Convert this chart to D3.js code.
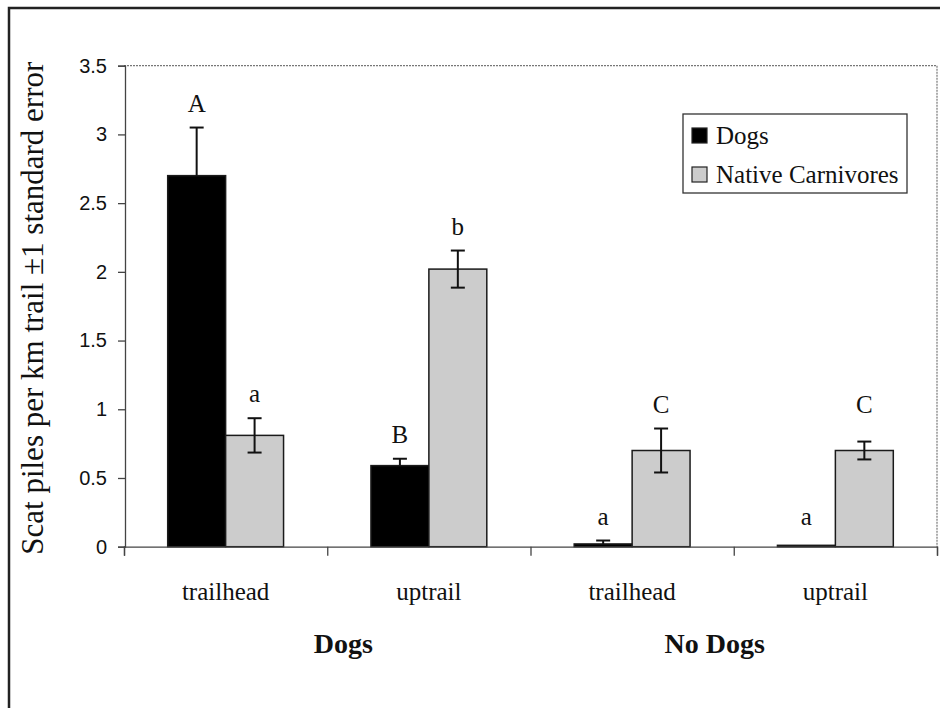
<!DOCTYPE html>
<html>
<head>
<meta charset="utf-8">
<script src="https://cdn.jsdelivr.net/npm/d3@7"></script>
<style>
  html, body { margin: 0; padding: 0; background: #fff; }
  svg { display: block; }
  .serif { font-family: "Liberation Serif", "Times New Roman", Times, serif; }
  .sans { font-family: "Liberation Sans", Arial, sans-serif; }
</style>
</head>
<body>
<svg id="chart" width="940" height="708"></svg>
<script>
// Scat piles per km of trail, by site and treatment
const treatments = ["Dogs", "No Dogs"];
const sites = ["trailhead", "uptrail", "trailhead", "uptrail"];
const siteTreatment = ["Dogs", "Dogs", "No Dogs", "No Dogs"];
const seriesNames = ["Dogs", "Native Carnivores"];
const dogMeans = [2.70, 0.59, 0.02, 0.01];
const dogSE = [0.35, 0.05, 0.025, 0.0];
const nativeMeans = [0.81, 2.02, 0.70, 0.70];
const nativeSE = [0.125, 0.135, 0.16, 0.065];
const dogLetters = ["A", "B", "a", "a"];
const nativeLetters = ["a", "b", "C", "C"];
const yTicks = [0, 0.5, 1, 1.5, 2, 2.5, 3, 3.5];
const yTitle = "Scat piles per km trail \u00b11 standard error";

const svg = d3.select("#chart");
const W = 940, H = 708;
const plot = { left: 124, right: 937, top: 65.7, bottom: 546.7 };
const colors = { "Dogs": "#000000", "Native Carnivores": "#cccccc" };

svg.append("rect").attr("width", W).attr("height", H).attr("fill", "#fff");

// page frame (top and left edges)
svg.append("path")
  .attr("d", `M9,${H + 2} L9,8 L${W + 2},8`)
  .attr("fill", "none").attr("stroke", "#222").attr("stroke-width", 2.5);

const idx = d3.range(sites.length);
const x0 = d3.scaleBand().domain(idx).range([plot.left, plot.right]).padding(0);
const bw = x0.bandwidth();
const x1 = d3.scaleBand().domain(seriesNames).range([bw * 0.215, bw * 0.785]).padding(0);
const xEdge = d3.scaleLinear().domain([0, sites.length]).range([plot.left, plot.right]);
const y = d3.scaleLinear().domain([0, 3.5]).range([plot.bottom, plot.top]);

// plot border (top and right)
svg.append("path")
  .attr("d", `M${plot.left},${y(3.5)} L${plot.right},${y(3.5)} L${plot.right},${y(0)}`)
  .attr("fill", "none").attr("stroke", "#777").attr("stroke-width", 1.2)
  .attr("stroke-dasharray", "2,1");

const rows = [];
idx.forEach(i => {
  rows.push({ i, s: "Dogs", v: dogMeans[i], se: dogSE[i], letter: dogLetters[i] });
  rows.push({ i, s: "Native Carnivores", v: nativeMeans[i], se: nativeSE[i], letter: nativeLetters[i] });
});

// bars
svg.append("g").selectAll("rect").data(rows).join("rect")
  .attr("x", d => x0(d.i) + x1(d.s))
  .attr("width", x1.bandwidth())
  .attr("y", d => y(d.v))
  .attr("height", d => y(0) - y(d.v))
  .attr("fill", d => colors[d.s])
  .attr("stroke", "#1a1a1a").attr("stroke-width", 1.5);

// error bars (the lower half is hidden inside the black bars)
const eb = svg.append("g").attr("stroke", "#111").attr("stroke-width", 2).attr("fill", "none");
rows.filter(d => d.se > 0).forEach(d => {
  const cx = x0(d.i) + x1(d.s) + x1.bandwidth() / 2;
  const hi = y(d.v + d.se);
  const lo = d.s === "Dogs" ? y(d.v) : y(Math.max(0, d.v - d.se));
  eb.append("line").attr("x1", cx).attr("x2", cx).attr("y1", hi).attr("y2", lo);
  eb.append("line").attr("x1", cx - 7).attr("x2", cx + 7).attr("y1", hi).attr("y2", hi);
  if (d.s !== "Dogs") {
    eb.append("line").attr("x1", cx - 7).attr("x2", cx + 7).attr("y1", lo).attr("y2", lo);
  }
});

// significance letters: bars sharing a letter within a series and treatment share a level
const levelOf = d => d3.max(rows.filter(r => r.s === d.s && r.letter === d.letter &&
  siteTreatment[r.i] === siteTreatment[d.i]), r => r.v + r.se);
svg.append("g").selectAll("text").data(rows).join("text")
  .attr("class", "serif")
  .attr("x", d => x0(d.i) + x1(d.s) + x1.bandwidth() / 2)
  .attr("y", d => y(levelOf(d)) - 16)
  .attr("text-anchor", "middle")
  .style("font-size", "25px").attr("fill", "#111")
  .text(d => d.letter);

// y axis
const yAxis = svg.append("g").attr("transform", `translate(${plot.left + 1},0)`)
  .call(d3.axisLeft(y).tickValues(yTicks).tickSize(7).tickPadding(11)
    .tickFormat(d => String(d)));
yAxis.select(".domain").attr("stroke", "#444").attr("stroke-width", 1.3);
yAxis.selectAll(".tick line").attr("stroke", "#444").attr("stroke-width", 1.3);
yAxis.selectAll(".tick text").attr("class", "sans").style("font-size", "20px").attr("fill", "#111");

// x axis with ticks on category boundaries
const xAxis = svg.append("g").attr("transform", `translate(0,${plot.bottom})`)
  .call(d3.axisBottom(xEdge).tickValues(d3.range(sites.length + 1)).tickSize(9).tickFormat(""));
xAxis.select(".domain").attr("stroke", "#444").attr("stroke-width", 1.3);
xAxis.selectAll(".tick line").attr("stroke", "#444").attr("stroke-width", 1.3);

// site labels
svg.append("g").selectAll("text").data(idx).join("text")
  .attr("class", "serif")
  .attr("x", i => x0(i) + bw / 2)
  .attr("y", 600)
  .attr("text-anchor", "middle")
  .style("font-size", "25px").attr("fill", "#111")
  .text(i => sites[i]);

// treatment labels
const treatOffset = { "Dogs": 16, "No Dogs": -19 };
svg.append("g").selectAll("text").data(treatments).join("text")
  .attr("class", "serif")
  .attr("x", t => {
    const members = idx.filter(i => siteTreatment[i] === t);
    return (x0(members[0]) + x0(members[members.length - 1]) + bw) / 2 + treatOffset[t];
  })
  .attr("y", 653)
  .attr("text-anchor", "middle")
  .style("font-size", "28px").style("font-weight", "bold").attr("fill", "#111")
  .text(t => t);

// y axis title
svg.append("g").selectAll("text").data([yTitle]).join("text")
  .attr("class", "serif")
  .attr("transform", `translate(43,${(y(0) + y(3.5)) / 2 + 2}) rotate(-90)`)
  .attr("text-anchor", "middle")
  .style("font-size", "31px").attr("fill", "#111")
  .text(d => d);

// legend
const lg = svg.append("g");
lg.append("rect").attr("x", 683).attr("y", 114).attr("width", 224).attr("height", 79)
  .attr("fill", "#fff").attr("stroke", "#333").attr("stroke-width", 1.3);
const items = lg.selectAll("g.item").data(seriesNames).join("g")
  .attr("class", "item")
  .attr("transform", (s, k) => `translate(0,${135.5 + k * 39})`);
items.append("rect").attr("x", 692).attr("y", -7.5).attr("width", 15).attr("height", 15)
  .attr("fill", s => colors[s]).attr("stroke", "#222").attr("stroke-width", 1.2);
items.append("text").attr("class", "serif").attr("x", 716).attr("y", 8)
  .style("font-size", "25px").attr("fill", "#111")
  .text(s => s);
</script>
</body>
</html>
